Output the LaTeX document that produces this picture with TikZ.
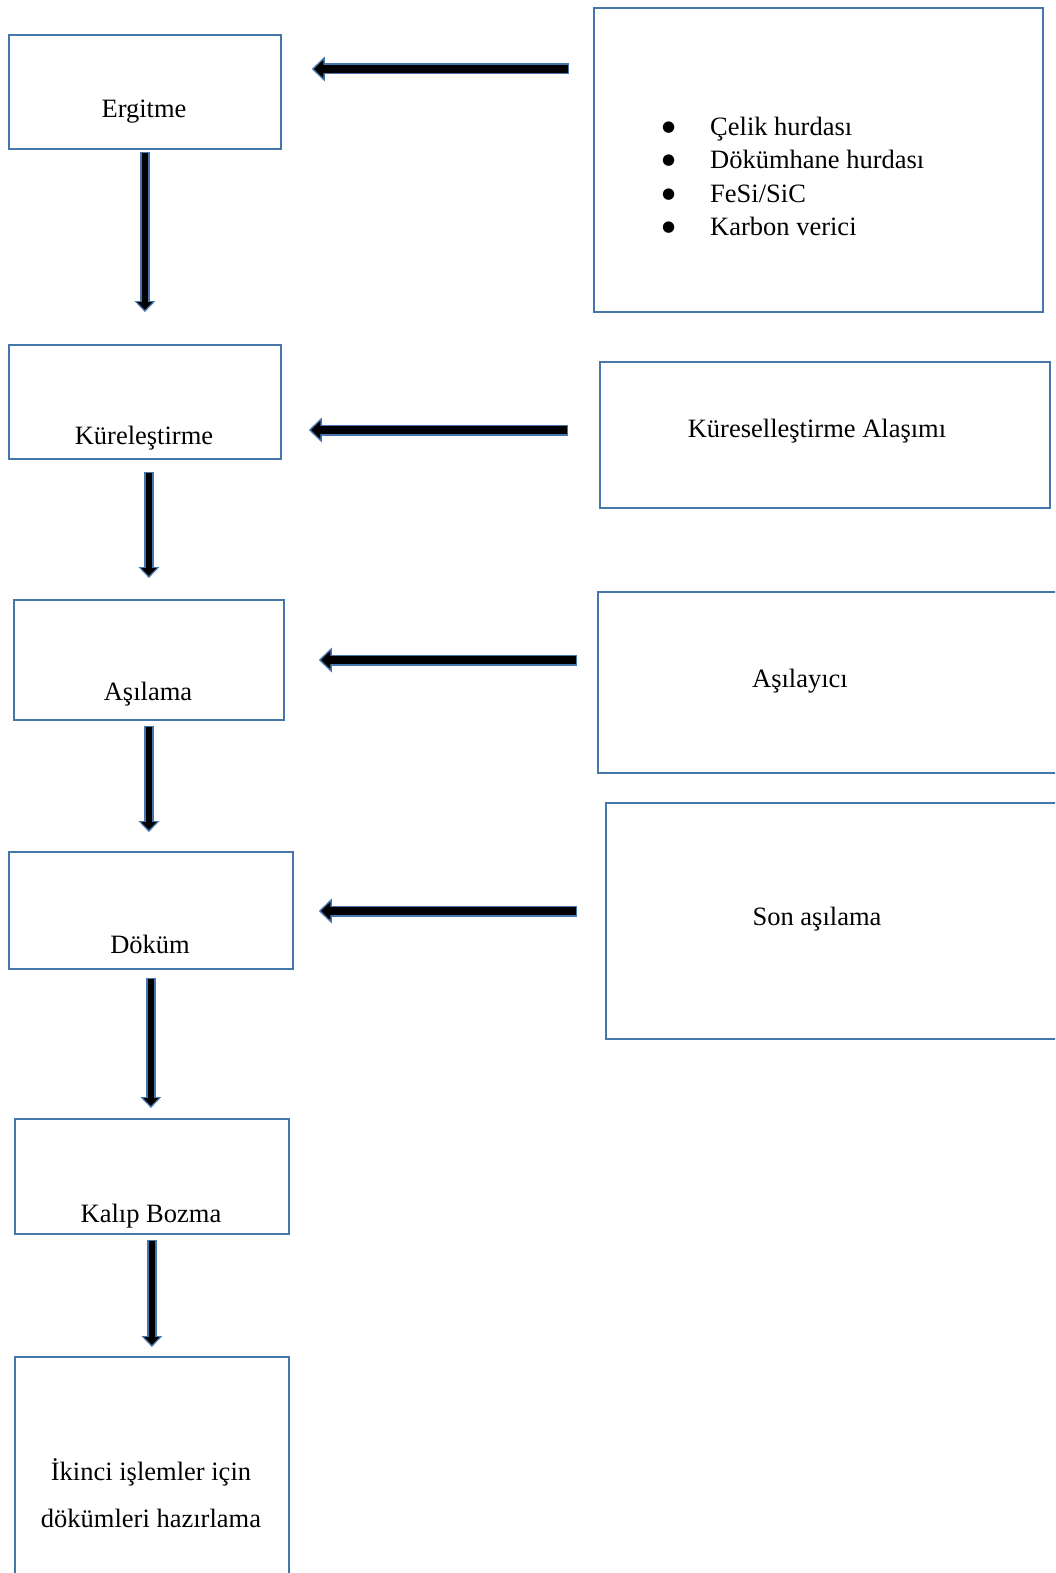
\documentclass[tikz,border=0pt]{standalone}
\usepackage{fontspec}
\setmainfont{Liberation Serif}
\newfontfamily\symfont{DejaVu Sans}
\usetikzlibrary{arrows.meta}
\definecolor{edgeblue}{RGB}{70,118,172}
\tikzset{
    box/.style={draw=edgeblue,line width=1.8pt,inner sep=0pt,anchor=north west},
    lbl/.style={font=\fontsize{26.5}{47}\selectfont,inner sep=0pt},
    hout/.style={draw=edgeblue,line width=11pt,-{Triangle[width=25pt,length=13pt,line width=0pt]}},
    hin/.style={draw=black,line width=7.5pt,-{Triangle[width=18pt,length=9.3pt,line width=0pt]}},
    vout/.style={draw=edgeblue,line width=9.5pt,-{Triangle[width=21pt,length=11pt,line width=0pt]}},
    vin/.style={draw=black,line width=6.5pt,-{Triangle[width=15pt,length=7.6pt,line width=0pt]}}
}
% #1 h or v, #2 from, #3 to, #4 gap at start, #5 gap at end
\newcommand\flowarrow[5]{%
    \draw[#1out,shorten <=#4,shorten >=#5] #2 -- #3;
    \draw[#1in,shorten <=#4+1.5pt,shorten >=#5+2.2pt] #2 -- #3;
}
\newcommand\blt{{\symfont\fontsize{15}{15}\selectfont\raisebox{4pt}{●}}}
\begin{document}
\begin{tikzpicture}[x=1pt,y=-1pt]
        \useasboundingbox (0,0) rectangle (1055,1573);
        \clip (0,0) rectangle (1055,1573);
        % process steps
        \node[box,minimum width=272pt,minimum height=114pt] (erg) at (8,34) {};
        \node[box,minimum width=272pt,minimum height=114pt] (kur) at (8,344) {};
        \node[box,minimum width=270pt,minimum height=120pt] (asi) at (13,599) {};
        \node[box,minimum width=284pt,minimum height=117pt] (dok) at (8,851) {};
        \node[box,minimum width=274pt,minimum height=115pt] (kal) at (14,1118) {};
        \node[box,minimum width=274pt,minimum height=240pt] (haz) at (14,1356) {};
        \node[lbl,anchor=base] (ergL) at (144,118) {Ergitme};
        \node[lbl,anchor=base] (kurL) at (144,444) {Küreleştirme};
        \node[lbl,anchor=base] (asiL) at (148,700) {Aşılama};
        \node[lbl,anchor=base] (dokL) at (150,953) {Döküm};
        \node[lbl,anchor=base] (kalL) at (151,1222) {Kalıp Bozma};
        \node[lbl,anchor=base] (hazL1) at (151,1480) {İkinci işlemler için};
        \node[lbl,anchor=base] (hazL2) at (151,1527) {dökümleri hazırlama};
        % inputs
        \node[box,minimum width=449pt,minimum height=304pt] (src1) at (593,7) {};
        \node[box,minimum width=450pt,minimum height=146pt] (src2) at (599,361) {};
        \node[box,minimum width=470pt,minimum height=181pt] (src3) at (597,591) {};
        \node[box,minimum width=470pt,minimum height=236pt] (src4) at (605,802) {};
        \foreach \t [count=\i] in {Çelik hurdası,Dökümhane hurdası,FeSi/SiC,Karbon verici}
            \node[lbl,anchor=base west] (item\i) at (662,103+33*\i)
                {\makebox[48pt][l]{\blt}\t};
        \node[lbl,anchor=base] (src2L) at (817,437) {Küreselleştirme Alaşımı};
        \node[lbl,anchor=base] (src3L) at (800,687) {Aşılayıcı};
        \node[lbl,anchor=base] (src4L) at (817,925) {Son aşılama};
        % flow arrows
        \coordinate (h1) at (0,69);
        \coordinate (h2) at (0,430);
        \coordinate (h3) at (0,660);
        \coordinate (h4) at (0,911);
        \flowarrow{h}{(h1 -| src1.west)}{(h1 -| erg.east)}{24pt}{30pt}
        \flowarrow{h}{(h2 -| src2.west)}{(h2 -| kur.east)}{31pt}{27pt}
        \flowarrow{h}{(h3 -| src3.west)}{(h3 -| asi.east)}{20pt}{34pt}
        \flowarrow{h}{(h4 -| src4.west)}{(h4 -| dok.east)}{28pt}{25pt}
        \flowarrow{v}{(erg.south)}{(erg.south |- kur.north)}{2pt}{32pt}
        \flowarrow{v}{(kur.south -| asi.north)}{(asi.north)}{12pt}{21pt}
        \flowarrow{v}{(asi.south)}{(asi.south |- dok.north)}{5pt}{19pt}
        \flowarrow{v}{(dok.south)}{(dok.south |- kal.north)}{8pt}{10pt}
        \flowarrow{v}{(kal.south)}{(kal.south |- haz.north)}{5pt}{9pt}
\end{tikzpicture}
\end{document}
